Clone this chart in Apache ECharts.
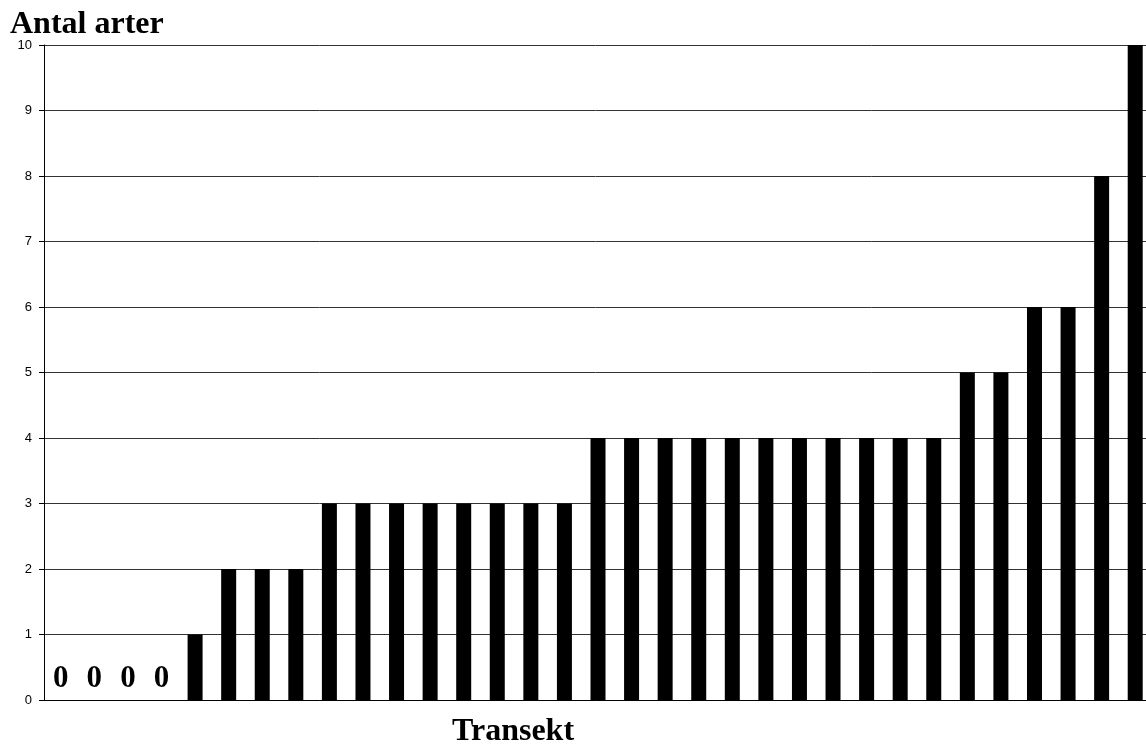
<!DOCTYPE html>
<html>
<head>
<meta charset="utf-8">
<script src="https://cdn.jsdelivr.net/npm/echarts@6/dist/echarts.min.js"></script>
<style>html,body{margin:0;padding:0;background:#fff}#c{width:1146px;height:744px}</style>
</head>
<body>
<div id="c"></div>
<script>
var transects = ["1","2","3","4","5","6","7","8","9","10","11","12","13","14","15","16","17","18","19","20","21","22","23","24","25","26","27","28","29","30","31","32","33"];
var speciesCount = [0,0,0,0,1,2,2,2,3,3,3,3,3,3,3,3,4,4,4,4,4,4,4,4,4,4,4,5,5,6,6,8,10];
var yTicks = [0,1,2,3,4,5,6,7,8,9,10];

var chart = echarts.init(document.getElementById('c'), null, {renderer: 'canvas'});
var barData = speciesCount.map(function (v) {
  var item = {value: v};
  if (v === 0) {
    item.label = {
      show: true, position: 'top', distance: 6,
      fontFamily: 'Liberation Serif', fontWeight: 'bold', fontSize: 31, color: '#000'
    };
  }
  return item;
});

chart.setOption({
  animation: false,
  title: {
    text: 'Antal arter', left: 5, top: 4,
    textStyle: {fontFamily: 'Liberation Serif', fontWeight: 'bold', fontSize: 32, color: '#000'}
  },
  grid: {left: 44, top: 45, width: 1108, height: 655, containLabel: false, outerBoundsMode: 'none'},
  xAxis: {
    type: 'category', data: transects,
    name: 'Transekt', nameLocation: 'middle', nameGap: 16,
    nameTextStyle: {fontFamily: 'Liberation Serif', fontWeight: 'bold', fontSize: 32, color: '#000', padding: [0, 170, 0, 0], verticalAlign: 'top'},
    axisLine: {lineStyle: {color: '#000', width: 1}},
    axisTick: {show: false},
    axisLabel: {show: false}
  },
  yAxis: {
    type: 'value', min: yTicks[0], max: yTicks[yTicks.length - 1], interval: 1,
    axisLine: {show: true, lineStyle: {color: '#000', width: 1}},
    axisTick: {show: true, length: 5, lineStyle: {color: '#000'}},
    axisLabel: {margin: 12, fontFamily: 'Liberation Sans', fontSize: 13, color: '#000'},
    splitLine: {show: true, lineStyle: {color: '#333', width: 1}}
  },
  series: [{
    type: 'bar', data: barData, barWidth: 15,
    itemStyle: {color: '#000'}
  }]
});
</script>
</body>
</html>
